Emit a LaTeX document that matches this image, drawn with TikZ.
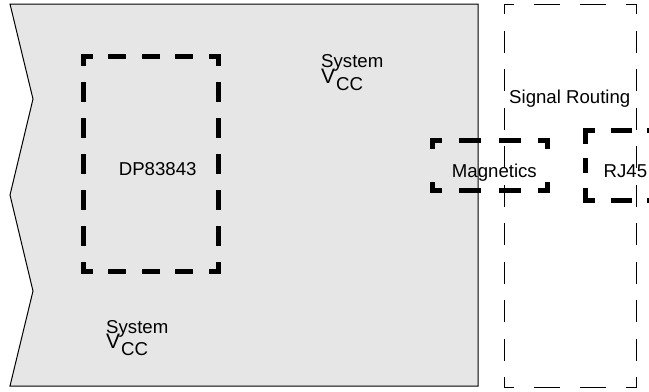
\documentclass[tikz,border=0pt]{standalone}
\usepackage{fontspec}
\setmainfont{Liberation Sans}
\definecolor{boardgray}{HTML}{E6E6E6}
\begin{document}
\begin{tikzpicture}[x=1bp,y=-1bp,
  txt/.style={inner sep=0pt, anchor=base west, font=\fontsize{18.7}{22}\selectfont},
  vtxt/.style={inner sep=0pt, anchor=base west, font=\fontsize{21}{25}\selectfont},
  board/.style={fill=boardgray, draw=black, line width=1bp, line join=miter},
  heavy/.style={draw=black, line width=5bp, line cap=rect},
  light/.style={draw=black, line width=1bp, line cap=rect},
  dpH/.style={heavy, dash pattern=on 13bp off 20.5bp, dash phase=6.25bp},
  dpV/.style={heavy, dash pattern=on 15bp off 21bp, dash phase=8bp},
  mgH/.style={heavy, dash pattern=on 17bp off 22.33bp, dash phase=10bp},
  mgV/.style={heavy, dash pattern=on 13bp off 37.5bp, dash phase=6.5bp},
  rjH/.style={heavy, dash pattern=on 16bp off 20.5bp, dash phase=8.5bp},
  rjV/.style={heavy, dash pattern=on 10.5bp off 19.5bp on 10bp off 19.5bp on 20bp off 1bp},
  srH/.style={light, dash pattern=on 25bp off 21bp, dash phase=15.5bp},
  srV/.style={light, dash pattern=on 21bp off 17.5bp, dash phase=11.5bp},
]
\useasboundingbox (0,0) rectangle (649,391);
\clip (0,0) rectangle (649,391);

% board outline
\draw[board] (10,4) -- (478,4) -- (478,386) -- (10,386) -- (33,291) -- (10,195) -- (33,99) -- cycle;

% box corners
\coordinate (srNW) at (504,4);   \coordinate (srNE) at (636,4);
\coordinate (srSW) at (504,387); \coordinate (srSE) at (636,387);
\coordinate (dpNW) at (83.5,56); \coordinate (dpNE) at (218,56);
\coordinate (dpSW) at (83.5,271); \coordinate (dpSE) at (218,271);
\coordinate (mgNW) at (432.5,140); \coordinate (mgNE) at (547.5,140);
\coordinate (mgSW) at (432.5,190.5); \coordinate (mgSE) at (547.5,190.5);
\coordinate (rjNW) at (585,130.5); \coordinate (rjNE) at (693.5,130.5);
\coordinate (rjSW) at (585,200.5); \coordinate (rjSE) at (693.5,200.5);

% signal routing area
\draw[srH] (srNW) -- (srNE);
\draw[srH] (srSW) -- (srSE);
\draw[srV] (srNW) -- (srSW);
\draw[srV] (srNE) -- (srSE);

% DP83843
\draw[dpH] (dpNW) -- (dpNE);
\draw[dpH] (dpSW) -- (dpSE);
\draw[dpV] (dpNW) -- (dpSW);
\draw[dpV] (dpNE) -- (dpSE);

% Magnetics
\draw[mgH] (mgNW) -- (mgNE);
\draw[mgH] (mgSW) -- (mgSE);
\draw[mgV] (mgNW) -- (mgSW);
\draw[mgV] (mgNE) -- (mgSE);

% RJ45
\draw[rjH] (rjNW) -- (rjNE);
\draw[rjH] (rjSW) -- (rjSE);
\draw[rjV] (rjNW) -- (rjSW);
\draw[rjV] (rjNE) -- (rjSE);

% labels
\node[txt] (dp) at (118.6,175.5) {DP83843};
\node[txt] (mag) at (451.7,177.5) {Magnetics};
\node[txt] (rj) at (603.5,177.5) {RJ45};
\node[txt] (sr) at (509,103.5) {Signal Routing};
\node[txt] (sys1) at (321,67.5) {System};
\node[vtxt] (v1) at (321,83.5) {V};
\node[txt] (cc1) at (336,90.5) {CC};
\node[txt] (sys2) at (106,333.5) {System};
\node[vtxt] (v2) at (106,348.5) {V};
\node[txt] (cc2) at (121,355.5) {CC};
\end{tikzpicture}
\end{document}
